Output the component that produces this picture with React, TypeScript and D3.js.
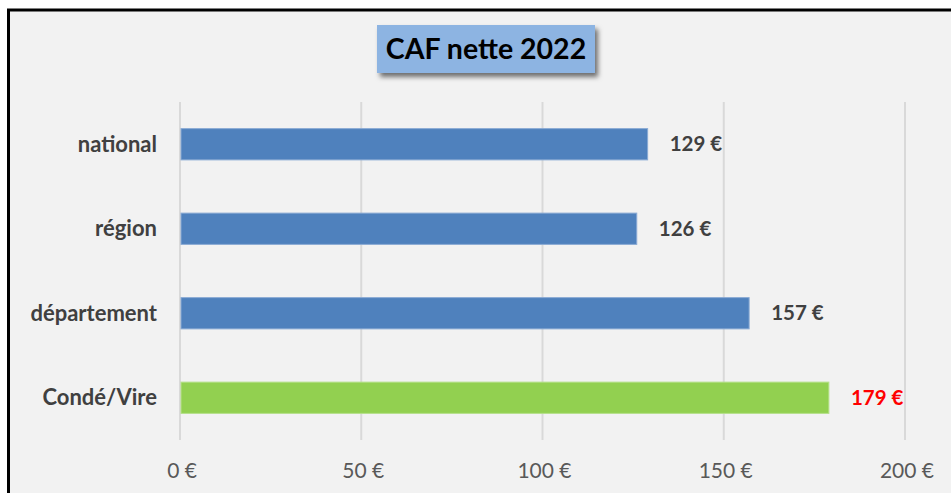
import React, { useEffect, useRef } from 'react';
import * as d3 from 'd3';

const categories = ['national', 'région', 'département', 'Condé/Vire'];
const values = [129, 126, 157, 179];
const highlight = [false, false, false, true];
const xTicks = [0, 50, 100, 150, 200];

const W = 951;
const H = 493;

const App = () => {
  const ref = useRef<SVGSVGElement>(null);

  useEffect(() => {
    const svg = d3.select(ref.current);
    svg.selectAll('*').remove();

    // background + frame
    svg.append('rect').attr('width', W).attr('height', H).attr('fill', '#ffffff');
    svg.append('rect')
      .attr('x', 8.5).attr('y', 10)
      .attr('width', W + 20).attr('height', H + 20)
      .attr('fill', '#f2f2f2')
      .attr('stroke', '#000').attr('stroke-width', 3);

    const x = d3.scaleLinear().domain([0, 200]).range([180, 905]);
    const y = d3.scaleBand<string>().domain(categories).range([102, 440]).paddingInner(0.63).paddingOuter(0.315);

    // gridlines
    svg.append('g')
      .selectAll('line')
      .data(xTicks)
      .join('line')
      .attr('x1', d => x(d)).attr('x2', d => x(d))
      .attr('y1', 102).attr('y2', 440)
      .attr('stroke', '#d9d9d9').attr('stroke-width', 2);

    const font = 'Lato, "Open Sans", sans-serif';

    // x tick labels
    svg.append('g')
      .selectAll('text')
      .data(xTicks)
      .join('text')
      .attr('x', d => x(d) + 2).attr('y', 478)
      .attr('text-anchor', 'middle')
      .attr('font-family', font).attr('font-size', 21)
      .attr('fill', '#595959')
      .text(d => `${d} €`);

    const rows = categories.map((c, i) => ({ c, v: values[i], hl: highlight[i] }));

    // bars
    svg.append('g')
      .selectAll('rect')
      .data(rows)
      .join('rect')
      .attr('x', x(0) + 1)
      .attr('y', d => y(d.c)!)
      .attr('width', d => x(d.v) - x(0) - 1)
      .attr('height', y.bandwidth())
      .attr('fill', d => (d.hl ? '#92d050' : '#4f81bd'))
      .attr('stroke', d => (d.hl ? '#b5e08a' : '#8aaad4'))
      .attr('stroke-width', 1);

    // category labels
    svg.append('g')
      .selectAll('text')
      .data(rows)
      .join('text')
      .attr('x', 157)
      .attr('y', d => y(d.c)! + y.bandwidth() / 2)
      .attr('dy', '0.35em')
      .attr('text-anchor', 'end')
      .attr('font-family', font).attr('font-size', 22).attr('font-weight', 'bold')
      .attr('fill', '#404040')
      .text(d => d.c);

    // value labels
    svg.append('g')
      .selectAll('text')
      .data(rows)
      .join('text')
      .attr('x', d => x(d.v) + 22)
      .attr('y', d => y(d.c)! + y.bandwidth() / 2)
      .attr('dy', '0.35em')
      .attr('font-family', font).attr('font-size', 20.5).attr('font-weight', 'bold')
      .attr('fill', d => (d.hl ? '#ff0000' : '#404040'))
      .text(d => `${d.v} €`);

    // title box with shadow
    const defs = svg.append('defs');
    const f = defs.append('filter').attr('id', 'shadow').attr('x', '-20%').attr('y', '-40%').attr('width', '140%').attr('height', '180%');
    f.append('feDropShadow').attr('dx', 3).attr('dy', 4).attr('stdDeviation', 2.5).attr('flood-color', '#000').attr('flood-opacity', 0.55);

    svg.append('rect')
      .attr('x', 377).attr('y', 25).attr('width', 218).attr('height', 48)
      .attr('fill', '#8db4e2')
      .attr('filter', 'url(#shadow)');
    svg.append('text')
      .attr('x', 486).attr('y', 49)
      .attr('dy', '0.36em')
      .attr('text-anchor', 'middle')
      .attr('font-family', font).attr('font-size', 28.5).attr('font-weight', 'bold')
      .attr('fill', '#000')
      .text('CAF nette 2022');
  }, []);

  return (
    <svg ref={ref} width={W} height={H} style={{ position: 'absolute', left: 0, top: 0, display: 'block' }}></svg>
  );
};

export default App;
